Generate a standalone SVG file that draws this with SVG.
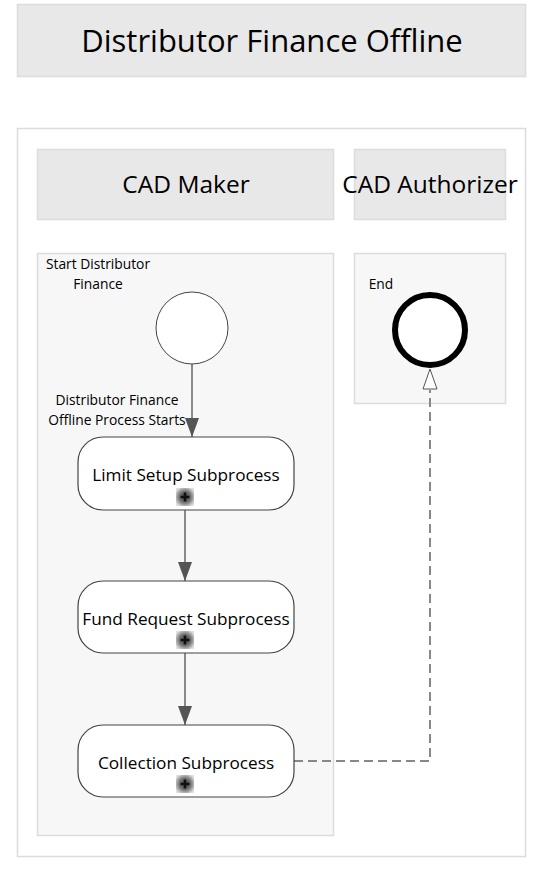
<svg xmlns="http://www.w3.org/2000/svg" width="556" height="877" viewBox="0 0 556 877">
<defs>
<style>
text{font-family:"Open Sans","Noto Sans","DejaVu Sans",sans-serif;fill:#000}
.hdr{fill:#e8e8e8;stroke:#dcdcdc;stroke-width:1.5}
.lane{fill:#f7f7f7;stroke:#dcdcdc;stroke-width:1.5}
.task{fill:#fff;stroke:#444;stroke-width:1.2}
.flow{stroke:#666;stroke-width:1.5;fill:none}
.msg{stroke:#888;stroke-width:2;fill:none;stroke-dasharray:9 5}
.sm{font-size:13.8px}
.tk{font-size:17.2px}
.ln{font-size:24.5px}
</style>
<radialGradient id="pg" cx="0.5" cy="0.5" r="0.6">
<stop offset="0" stop-color="#333"/>
<stop offset="0.55" stop-color="#777"/>
<stop offset="1" stop-color="#e0e0e0"/>
</radialGradient>
<marker id="ah" markerWidth="20" markerHeight="14" refX="19" refY="7" orient="auto" markerUnits="userSpaceOnUse" viewBox="0 0 20 14">
<path d="M0,0 L19,7 L0,14 Z" fill="#555"/>
</marker>
<symbol id="plus" viewBox="0 0 18 18">
<rect x="0" y="0" width="18" height="18" fill="url(#pg)"/>
<path d="M9,4.5 V13.5 M4.5,9 H13.5" stroke="#111" stroke-width="2.5"/>
</symbol>
</defs>
<g id="title">
<rect class="hdr" x="17.5" y="4.5" width="508" height="72"/>
<text x="272" y="52" font-size="31" text-anchor="middle">Distributor Finance Offline</text>
</g>
<g id="pool">
<rect x="17.5" y="128.5" width="508" height="728" fill="#fff" stroke="#dcdcdc" stroke-width="1.5"/>
</g>
<g id="lane-cad-maker">
<rect class="hdr" x="37.5" y="149.5" width="296" height="70"/>
<text class="ln" x="186" y="193" text-anchor="middle">CAD Maker</text>
<rect class="lane" x="37.5" y="253.5" width="296" height="582"/>
</g>
<g id="lane-cad-authorizer">
<rect class="hdr" x="354.5" y="149.5" width="151" height="70"/>
<text class="ln" x="430" y="193" text-anchor="middle">CAD Authorizer</text>
<rect class="lane" x="354.5" y="253.5" width="151" height="150"/>
</g>
<g id="connectors">
<line class="flow" x1="192" y1="364" x2="192" y2="437" marker-end="url(#ah)"/>
<line class="flow" x1="185" y1="507" x2="185" y2="581" marker-end="url(#ah)"/>
<line class="flow" x1="185" y1="651" x2="185" y2="725" marker-end="url(#ah)"/>
<path class="msg" d="M294,761 H430 V390"/>
<path d="M430,369 L437,389 L423,389 Z" fill="#fff" stroke="#555" stroke-width="1"/>
</g>
<g id="start">
<circle cx="192" cy="328" r="36" fill="#fff" stroke="#444" stroke-width="1"/>
<text class="sm" x="98" y="269" text-anchor="middle">Start Distributor</text>
<text class="sm" x="98" y="289" text-anchor="middle">Finance</text>
<text class="sm" x="117" y="405" text-anchor="middle">Distributor Finance</text>
<text class="sm" x="117" y="425" text-anchor="middle">Offline Process Starts</text>
</g>
<g id="limit-setup">
<rect class="task" x="78" y="437" width="216" height="73" rx="25"/>
<text class="tk" x="186" y="481" text-anchor="middle">Limit Setup Subprocess</text>
<use href="#plus" x="176" y="488" width="18" height="18"/>
</g>
<g id="fund-request">
<rect class="task" x="78" y="581" width="216" height="72" rx="25"/>
<text class="tk" x="186" y="625" text-anchor="middle">Fund Request Subprocess</text>
<use href="#plus" x="176" y="631" width="18" height="18"/>
</g>
<g id="collection">
<rect class="task" x="78" y="725" width="216" height="72" rx="25"/>
<text class="tk" x="186" y="769" text-anchor="middle">Collection Subprocess</text>
<use href="#plus" x="176" y="775" width="18" height="18"/>
</g>
<g id="end">
<circle cx="430" cy="330" r="35" fill="#fff" stroke="#000" stroke-width="6"/>
<text class="sm" x="381" y="289" text-anchor="middle">End</text>
</g>
</svg>
